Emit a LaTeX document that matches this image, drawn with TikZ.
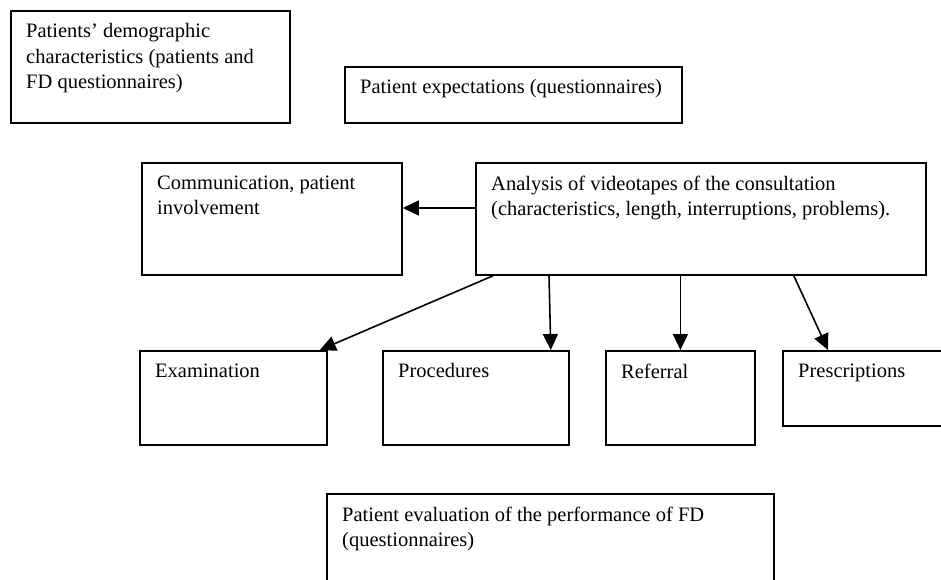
\documentclass[tikz,border=0pt]{standalone}
\usepackage{fontspec}
\setmainfont{Liberation Serif}
\usetikzlibrary{calc,positioning,arrows.meta}

\begin{document}
\begin{tikzpicture}[x=1pt,y=-1pt,
  box/.style={draw,line width=1.8pt,anchor=north west,inner sep=0pt},
  txt/.style={anchor=north west,align=left,inner sep=0pt,xshift=16pt,yshift=-13.5pt,font=\fontsize{20.5}{25.5}\selectfont},
  arr/.style={line width=1.6pt,-{Triangle[length=16pt,width=15pt]}}]
     \clip (0,0) rectangle (941,580);
     \fill[white] (0,0) rectangle (941,580);

     \node[box,minimum width=279pt,minimum height=112pt,label={[txt]north west:{Patients’ demographic\\characteristics (patients and\\FD questionnaires)}}] (dem) at (10,10) {};
     \node[box,minimum width=337pt,minimum height=56pt,label={[txt]north west:{Patient expectations (questionnaires)}}] (exp) at (344,66) {};

     \node[box,minimum width=260pt,minimum height=112pt,label={[txt]north west:{Communication, patient\\involvement}}] (com) at (141,162) {};
     \node[box,minimum width=450pt,minimum height=112pt,label={[txt]north west:{Analysis of videotapes of the consultation\\(characteristics, length, interruptions, problems).}}] (ana) at (475,162) {};

     \node[box,minimum width=187pt,minimum height=94pt,label={[txt]north west:{Examination}}] (exa) at (139,350) {};
     \node[box,minimum width=186pt,minimum height=94pt,label={[txt]north west:{Procedures}}] (pro) at (382,350) {};
     \node[box,minimum width=149pt,minimum height=94pt,label={[txt]north west:{Referral}}] (ref) at (605,350) {};
     \node[box,minimum width=170pt,minimum height=75pt,label={[txt]north west:{Prescriptions}}] (pre) at (782,350) {};

     \node[box,minimum width=447pt,minimum height=100pt,label={[txt]north west:{Patient evaluation of the performance of FD\\(questionnaires)}}] (eva) at (326,493) {};

     \draw[arr] ([yshift=-46pt]ana.north west) -- ([yshift=-46pt]com.north east);
     \draw[arr] ([xshift=18pt]ana.south west) -- ([xshift=-8pt]exa.north east);
     \draw[arr] ([xshift=74pt]ana.south west) -- ([xshift=-19pt]pro.north east);
     \draw[arr] (ana.south -| ref.north) -- (ref.north);
     \draw[arr] ([xshift=-133pt]ana.south east) -- ([xshift=46pt]pre.north west);
\end{tikzpicture}
\end{document}
